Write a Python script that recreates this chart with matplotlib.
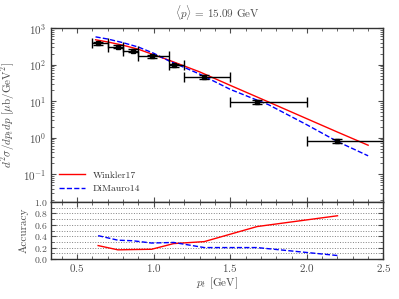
import numpy as np
import matplotlib
matplotlib.use('Agg')
import matplotlib.pyplot as plt
from matplotlib.ticker import MultipleLocator, LogLocator, NullFormatter

plt.rcParams['font.family'] = 'serif'
plt.rcParams['font.serif'] = ['cmr10']
plt.rcParams['mathtext.fontset'] = 'cm'
plt.rcParams['axes.formatter.use_mathtext'] = True
plt.rcParams['axes.unicode_minus'] = False

# data points
pt = [0.637, 0.766, 0.864, 0.986, 1.13, 1.33, 1.675, 2.2]
pt_lo = [0.6, 0.7, 0.8, 0.9, 1.1, 1.2, 1.5, 2.0]
pt_hi = [0.7, 0.8, 0.9, 1.1, 1.2, 1.5, 2.0, 3.0]
xs = [380, 310, 240, 170, 95, 46, 9.5, 0.83]
xs_err = [40, 32, 25, 18, 11, 5, 1.1, 0.1]

# model curves
p_mod = [0.62, 0.7, 0.8, 0.9, 1.0, 1.1, 1.2, 1.3, 1.5, 1.75, 2.0, 2.2, 2.4]
log_w17 = [2.68, 2.62, 2.53, 2.42, 2.27, 2.12, 1.96, 1.80, 1.43, 0.975, 0.516, 0.15, -0.21]
log_dm14 = [2.76, 2.70, 2.60, 2.48, 2.31, 2.10, 1.92, 1.74, 1.32, 0.90, 0.35, -0.11, -0.50]

# accuracy
acc_w17 = [0.235, 0.16, 0.165, 0.17, 0.27, 0.305, 0.57, 0.76]
acc_dm14 = [0.41, 0.33, 0.32, 0.28, 0.29, 0.20, 0.20, 0.06]

tc = '0.3'
fig = plt.figure(figsize=(3.99, 2.99), dpi=100)
ax = fig.add_axes([0.127, 0.324, 0.834, 0.582])
ax2 = fig.add_axes([0.127, 0.134, 0.834, 0.19])

xerr = [np.array(pt) - np.array(pt_lo), np.array(pt_hi) - np.array(pt)]
ax.errorbar(pt, xs, xerr=xerr, yerr=xs_err, fmt='s', color='k', ms=3.5,
            capsize=3.5, elinewidth=1, capthick=1, zorder=3)
ax.plot(p_mod, 10 ** np.array(log_w17), 'r-', lw=1, label='Winkler17')
ax.plot(p_mod, 10 ** np.array(log_dm14), 'b--', lw=1, label='DiMauro14')
ax.set_yscale('log')
ax.set_xlim(0.327, 2.5)
ax.set_ylim(0.017, 1000)
ax.yaxis.set_major_locator(LogLocator(base=10, numticks=10))
ax.yaxis.set_minor_locator(LogLocator(base=10, subs=np.arange(2, 10), numticks=20))
ax.yaxis.set_minor_formatter(NullFormatter())
ax.xaxis.set_major_locator(MultipleLocator(0.5))
ax.xaxis.set_minor_locator(MultipleLocator(0.1))
ax.tick_params(labelbottom=False)
ax.set_ylabel(r'$d^2\sigma/dp_tdp$ [$\mu$b/GeV$^2$]', fontsize=8, color=tc)
ax.set_title(r'$\langle p\rangle$ = 15.09 GeV', fontsize=8, color=tc, pad=8)
leg = ax.legend(loc='lower left', frameon=False, fontsize=7, handlelength=2.6)
for t in leg.get_texts():
    t.set_color('0.2')

ax2.plot(pt, acc_w17, 'r-', lw=1)
ax2.plot(pt, acc_dm14, 'b--', lw=1)
ax2.set_xlim(0.327, 2.5)
ax2.set_ylim(0, 1.0)
ax2.yaxis.set_major_locator(MultipleLocator(0.2))
ax2.yaxis.set_minor_locator(MultipleLocator(0.1))
ax2.xaxis.set_major_locator(MultipleLocator(0.5))
ax2.xaxis.set_minor_locator(MultipleLocator(0.1))
ax2.grid(True, which='both', axis='y', ls=':', color='0.5', lw=0.7)
ax2.set_ylabel('Accuracy', fontsize=8, color=tc)
ax2.set_xlabel(r'$p_t$ [GeV]', fontsize=8, color=tc, labelpad=1)

for a in (ax, ax2):
    for s in a.spines.values():
        s.set_color('0.2')
        s.set_linewidth(1)
    a.tick_params(which='both', direction='in', top=True, right=True, colors='0.3',
                  labelsize=8, labelcolor=tc)
    a.tick_params(which='major', length=3.5)
    a.tick_params(which='minor', length=2)
ax2.tick_params(labelsize=7, pad=2)
ax2.tick_params(axis='x', labelsize=8)

fig.savefig('out.png', dpi=100)
